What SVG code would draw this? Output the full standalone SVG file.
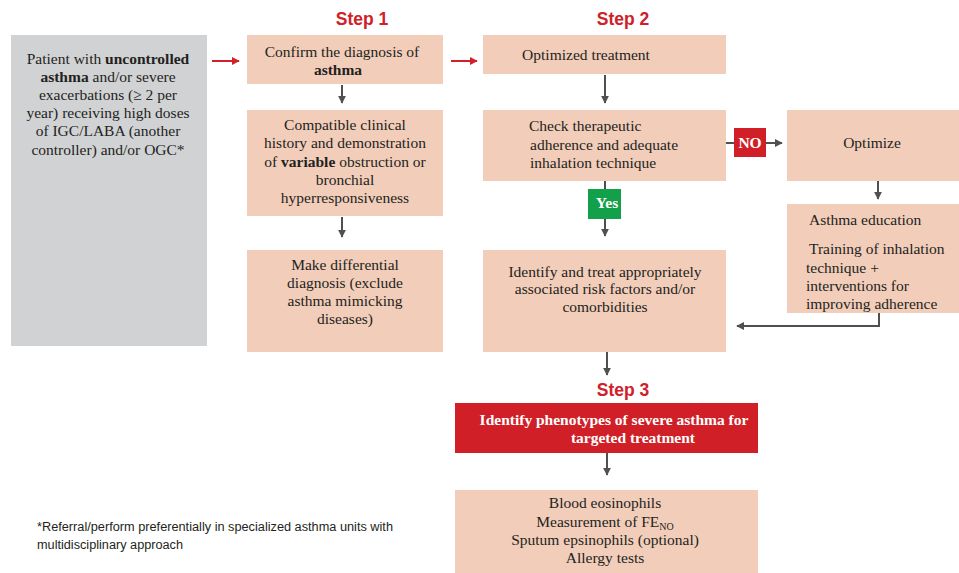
<svg xmlns="http://www.w3.org/2000/svg" width="959" height="573" viewBox="0 0 959 573">
<style>
.box{fill:#f2cdba}
.t{font-family:"Liberation Serif","Times New Roman",serif;font-size:15.5px;fill:#231f20}
.c{text-anchor:middle}
.b{font-weight:bold}
.w{fill:#ffffff;font-weight:bold}
.step{font-family:"Liberation Sans",Arial,sans-serif;font-size:17.5px;font-weight:bold;fill:#d0202a;text-anchor:middle}
.ln{stroke:#505050;stroke-width:2;fill:none}
.rl{stroke:#d0202a;stroke-width:2;fill:none}
.fn{font-family:"Liberation Sans",Arial,sans-serif;font-size:12px;fill:#231f20}
</style>
<defs>
<marker id="ah" viewBox="0 0 10 10" refX="9" refY="5" markerWidth="4" markerHeight="4" orient="auto" markerUnits="strokeWidth">
<path d="M0,0 L10,5 L0,10 z" fill="#505050"/>
</marker>
<marker id="ahr" viewBox="0 0 10 10" refX="9" refY="5" markerWidth="4" markerHeight="4" orient="auto" markerUnits="strokeWidth">
<path d="M0,0 L10,5 L0,10 z" fill="#d0202a"/>
</marker>
</defs>
<rect width="959" height="573" fill="#ffffff"/>

<text class="step" x="362" y="25">Step 1</text>
<text class="step" x="623" y="25">Step 2</text>
<text class="step" x="623" y="396">Step 3</text>

<g id="patient">
<rect x="11" y="35" width="196" height="311" fill="#d1d2d4"/>
<text class="t c" x="108" y="64">Patient with <tspan class="b">uncontrolled</tspan></text>
<text class="t c" x="108" y="82"><tspan class="b">asthma</tspan> and/or severe</text>
<text class="t c" x="108" y="100">exacerbations (≥ 2 per</text>
<text class="t c" x="108" y="118">year) receiving high doses</text>
<text class="t c" x="108" y="136">of IGC/LABA  (another</text>
<text class="t c" x="108" y="155">controller) and/or OGC*</text>
</g>

<g id="confirm">
<rect class="box" x="247" y="35" width="196" height="49"/>
<text class="t c" x="342" y="57">Confirm the diagnosis of</text>
<text class="t c b" x="338" y="75">asthma</text>
</g>

<g id="compatible">
<rect class="box" x="247" y="110" width="196" height="106"/>
<text class="t c" x="345" y="130">Compatible clinical</text>
<text class="t c" x="345" y="148">history and demonstration</text>
<text class="t c" x="345" y="167">of <tspan class="b">variable</tspan> obstruction or</text>
<text class="t c" x="345" y="185">bronchial</text>
<text class="t c" x="345" y="203">hyperresponsiveness</text>
</g>

<g id="differential">
<rect class="box" x="247" y="250" width="196" height="102"/>
<text class="t c" x="345" y="270">Make differential</text>
<text class="t c" x="345" y="288">diagnosis (exclude</text>
<text class="t c" x="345" y="306">asthma mimicking</text>
<text class="t c" x="345" y="324">diseases)</text>
</g>

<g id="optimized">
<rect class="box" x="483" y="35" width="243" height="39"/>
<text class="t c" x="586" y="60">Optimized treatment</text>
</g>

<g id="check">
<rect class="box" x="483" y="110" width="243" height="71"/>
<text class="t" x="529" y="131">Check therapeutic</text>
<text class="t" x="530" y="150">adherence and adequate</text>
<text class="t" x="530" y="168">inhalation technique</text>
</g>

<g id="optimize">
<rect class="box" x="787" y="110" width="172" height="71"/>
<text class="t c" x="872" y="148">Optimize</text>
</g>

<g id="education">
<rect class="box" x="787" y="204" width="172" height="109"/>
<text class="t" x="809" y="225">Asthma education</text>
<text class="t" x="809" y="254">Training of inhalation</text>
<text class="t" x="806" y="273">technique +</text>
<text class="t" x="806" y="291">interventions for</text>
<text class="t" x="806" y="309">improving adherence</text>
</g>

<g id="riskfactors">
<rect class="box" x="483" y="250" width="243" height="102"/>
<text class="t c" x="605" y="277">Identify and treat appropriately</text>
<text class="t c" x="605" y="294">associated risk factors and/or</text>
<text class="t c" x="605" y="312">comorbidities</text>
</g>

<g id="phenotypes">
<rect x="455" y="403" width="303" height="50" fill="#d01f26"/>
<text class="t c w" x="614" y="425">Identify phenotypes of severe asthma for</text>
<text class="t c w" x="633" y="443">targeted treatment</text>
</g>

<g id="tests">
<rect class="box" x="455" y="490" width="303" height="83"/>
<text class="t c" x="605" y="508">Blood eosinophils</text>
<text class="t c" x="605" y="527">Measurement of FE<tspan font-size="10" dy="3">NO</tspan></text>
<text class="t c" x="605" y="545">Sputum epsinophils (optional)</text>
<text class="t c" x="605" y="563">Allergy tests</text>
</g>

<g id="connectors">
<line class="rl" x1="212" y1="61" x2="239" y2="61" marker-end="url(#ahr)"/>
<line class="rl" x1="451" y1="61" x2="477" y2="61" marker-end="url(#ahr)"/>
<line class="ln" x1="342" y1="85" x2="342" y2="103" marker-end="url(#ah)"/>
<line class="ln" x1="342" y1="217" x2="342" y2="237" marker-end="url(#ah)"/>
<line class="ln" x1="605" y1="75" x2="605" y2="103" marker-end="url(#ah)"/>
<line class="ln" x1="605" y1="181" x2="605" y2="189"/>
<line class="ln" x1="605" y1="219" x2="605" y2="236" marker-end="url(#ah)"/>
<line class="ln" x1="726" y1="143" x2="734" y2="143"/>
<line class="ln" x1="766" y1="143" x2="782" y2="143" marker-end="url(#ah)"/>
<line class="ln" x1="878" y1="181" x2="878" y2="199" marker-end="url(#ah)"/>
<polyline class="ln" points="879,313 879,326 737,326" marker-end="url(#ah)"/>
<line class="ln" x1="607" y1="352" x2="607" y2="375" marker-end="url(#ah)"/>
<line class="ln" x1="607" y1="453" x2="607" y2="475" marker-end="url(#ah)"/>
</g>

<g id="no">
<rect x="734" y="128" width="32" height="29" fill="#d01f26"/>
<text class="t c w" x="750" y="148">NO</text>
</g>

<g id="yes">
<rect x="588" y="189" width="33" height="30" fill="#13a04a"/>
<text class="t c w" x="607" y="208">Yes</text>
</g>

<text class="fn" x="37" y="531" textLength="356" lengthAdjust="spacingAndGlyphs">*Referral/perform preferentially in specialized asthma units with</text>
<text class="fn" x="37" y="549" textLength="146" lengthAdjust="spacingAndGlyphs">multidisciplinary approach</text>
</svg>
